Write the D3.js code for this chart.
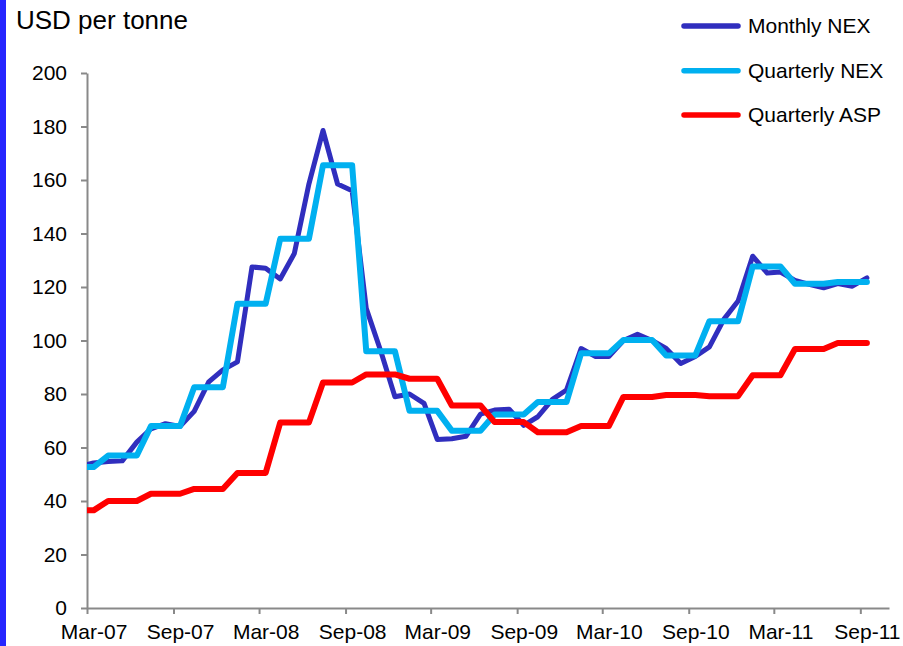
<!DOCTYPE html>
<html>
<head>
<meta charset="utf-8">
<script src="https://cdn.jsdelivr.net/npm/d3@7"></script>
<style>
  html, body { margin: 0; padding: 0; background: #fff; }
  svg { display: block; font-family: "Liberation Sans", Arial, sans-serif; }
</style>
</head>
<body>
<svg id="chart" width="903" height="646"></svg>
<script>
// Monthly observations, Feb-07 .. Sep-11 (the first month falls just left of the axis and is clipped)
const months = [
  "Feb-07","Mar-07","Apr-07","May-07","Jun-07","Jul-07","Aug-07","Sep-07","Oct-07","Nov-07","Dec-07",
  "Jan-08","Feb-08","Mar-08","Apr-08","May-08","Jun-08","Jul-08","Aug-08","Sep-08","Oct-08","Nov-08","Dec-08",
  "Jan-09","Feb-09","Mar-09","Apr-09","May-09","Jun-09","Jul-09","Aug-09","Sep-09","Oct-09","Nov-09","Dec-09",
  "Jan-10","Feb-10","Mar-10","Apr-10","May-10","Jun-10","Jul-10","Aug-10","Sep-10","Oct-10","Nov-10","Dec-10",
  "Jan-11","Feb-11","Mar-11","Apr-11","May-11","Jun-11","Jul-11","Aug-11","Sep-11"
];

const monthlyNEX = [
  53, 54.2, 54.8, 55, 62, 67, 68.9, 67.9, 73.5, 84.5, 89,
  92, 127.5, 127, 123, 132.5, 158.5, 178.5, 158.5, 156, 112, 96, 79,
  80, 76.5, 63, 63.3, 64.2, 72.5, 74, 74.3, 68.3, 71.5, 78, 81.5,
  97, 94, 94, 100, 102.3, 100, 97, 91.4, 94, 97.6, 108, 114.8,
  131.5, 125.2, 125.6, 122.5, 121, 119.7, 121.3, 120.3, 123.4
];

const quarterlyNEX = [
  52.7, 52.7, 57, 57, 57, 68, 68, 68, 82.5, 82.5, 82.5,
  113.7, 113.7, 113.7, 138, 138, 138, 165.5, 165.5, 165.5, 96, 96, 96,
  73.7, 73.7, 73.7, 66.3, 66.3, 66.3, 72.3, 72.3, 72.3, 77, 77, 77,
  95.2, 95.2, 95.2, 100.2, 100.2, 100.2, 94.4, 94.4, 94.4, 107.2, 107.2, 107.2,
  127.7, 127.7, 127.7, 121.2, 121.2, 121.2, 121.9, 121.9, 121.9
];

const quarterlyASP = [
  36.5, 36.5, 40, 40, 40, 42.7, 42.7, 42.7, 44.5, 44.5, 44.5,
  50.5, 50.5, 50.5, 69.3, 69.3, 69.3, 84.3, 84.3, 84.3, 87.3, 87.3, 87.3,
  85.7, 85.7, 85.7, 75.7, 75.7, 75.7, 69.5, 69.5, 69.5, 65.7, 65.7, 65.7,
  68, 68, 68, 78.9, 78.9, 78.9, 79.6, 79.6, 79.6, 79.2, 79.2, 79.2,
  87, 87, 87, 96.8, 96.8, 96.8, 99.1, 99.1, 99.1
];

const seriesNames = ["Monthly NEX", "Quarterly NEX", "Quarterly ASP"];
const seriesColors = ["#302EBE", "#00B0F0", "#FF0000"];
const seriesWidths = [5, 6, 6];

const xTickLabels = ["Mar-07","Sep-07","Mar-08","Sep-08","Mar-09","Sep-09","Mar-10","Sep-10","Mar-11","Sep-11"];
const yTicks = [0, 20, 40, 60, 80, 100, 120, 140, 160, 180, 200];

const parseMonth = d3.timeParse("%b-%y");
// each monthly value sits at the middle of its month
const midMonth = s => d3.timeDay.offset(parseMonth(s), 14);

const svg = d3.select("#chart");
const W = 903, H = 646;

const plot = { left: 87, right: 889, top: 73, bottom: 608 };

const x = d3.scaleTime()
  .domain([new Date(2007, 2, 1), new Date(2011, 10, 1)])
  .range([plot.left, plot.right]);

const y = d3.scaleLinear()
  .domain([0, 200])
  .range([plot.bottom, plot.top]);

// left accent bar
svg.append("rect")
  .attr("x", 0).attr("y", 0)
  .attr("width", 6).attr("height", H)
  .attr("fill", "#2626FF");

// unit title
svg.append("text")
  .attr("x", 16).attr("y", 29)
  .attr("font-size", 26)
  .attr("fill", "#000")
  .text("USD per tonne");

// axes
const axisColor = "#898989";

const yAxis = svg.append("g")
  .attr("transform", `translate(${plot.left},0)`)
  .call(d3.axisLeft(y).tickValues(yTicks).tickSize(6).tickSizeOuter(0).tickPadding(14));

const xAxis = svg.append("g")
  .attr("transform", `translate(0,${plot.bottom})`)
  .call(d3.axisBottom(x)
    .tickValues(xTickLabels.map(parseMonth))
    .tickFormat(d3.timeFormat("%b-%y"))
    .tickSize(6).tickSizeOuter(0).tickPadding(10.5));

// month labels are centred on their month
xAxis.selectAll(".tick text")
  .attr("dx", d => x(d3.timeDay.offset(d, 14)) - x(d));

[yAxis, xAxis].forEach(g => {
  g.select(".domain").attr("stroke", axisColor).attr("stroke-width", 2);
  g.selectAll(".tick line").attr("stroke", axisColor).attr("stroke-width", 2);
  g.selectAll(".tick text").attr("font-size", 21).attr("fill", "#000")
    .attr("font-family", "'Liberation Sans', Arial, sans-serif");
});

// series lines, clipped to the plot area
svg.append("clipPath").attr("id", "plotClip")
  .append("rect")
  .attr("x", plot.left).attr("y", 0)
  .attr("width", W - plot.left).attr("height", plot.bottom);

const line = d3.line()
  .x(d => x(d.date))
  .y(d => y(d.value));

const allSeries = [monthlyNEX, quarterlyNEX, quarterlyASP];
const lines = svg.append("g").attr("clip-path", "url(#plotClip)");

allSeries.forEach((vals, i) => {
  const data = months.map((m, k) => ({ date: midMonth(m), value: vals[k] }));
  lines.append("path")
    .datum(data)
    .attr("d", line)
    .attr("fill", "none")
    .attr("stroke", seriesColors[i])
    .attr("stroke-width", seriesWidths[i])
    .attr("stroke-linejoin", "round")
    .attr("stroke-linecap", "round");
});

// legend
const legend = svg.append("g");
const legendY = [26, 70.7, 115];
seriesNames.forEach((name, i) => {
  legend.append("line")
    .attr("x1", 684).attr("x2", 738)
    .attr("y1", legendY[i]).attr("y2", legendY[i])
    .attr("stroke", seriesColors[i])
    .attr("stroke-width", 5.5)
    .attr("stroke-linecap", "round");
  legend.append("text")
    .attr("x", 748).attr("y", legendY[i])
    .attr("dy", "0.35em")
    .attr("font-size", 21)
    .attr("fill", "#000")
    .text(name);
});
</script>
</body>
</html>
